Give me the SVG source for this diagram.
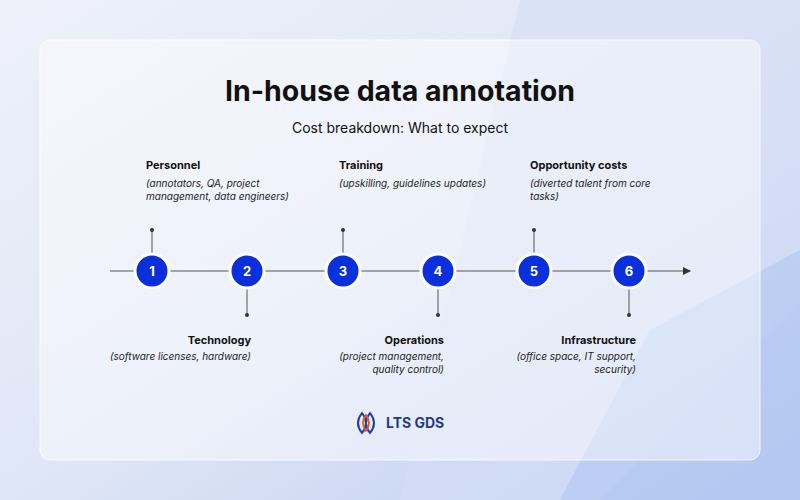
<svg xmlns="http://www.w3.org/2000/svg" width="800" height="500" viewBox="0 0 800 500">
<defs>
<linearGradient id="bg" x1="0" y1="0" x2="1" y2="1">
<stop offset="0" stop-color="#eef1fa"/><stop offset="0.5" stop-color="#dfe6f6"/><stop offset="1" stop-color="#bcccf0"/>
</linearGradient>
<marker id="arr" markerWidth="8" markerHeight="8" refX="7" refY="4" orient="auto" markerUnits="userSpaceOnUse"><path d="M0,0 L8,4 L0,8 Z" fill="#333"/></marker>
<style>
.t{font-family:Inter,"Liberation Sans",sans-serif;fill:#111}
.h{font-size:11px;font-weight:700}
.s{font-size:10px;font-style:italic;fill:#222}
.n circle{fill:#0a2fdb;stroke:#fff;stroke-width:3}
.n text{font-family:Inter,"Liberation Sans",sans-serif;font-size:13px;font-weight:700;fill:#fff;text-anchor:middle}
.ln{stroke:#555;stroke-width:1}
</style>
</defs>
<rect width="800" height="500" fill="url(#bg)"/>
<polygon points="520,0 800,0 800,300 600,500 400,500" fill="#d4def5" opacity="0.6"/>
<polygon points="650,330 800,250 800,500 560,500" fill="#a9c1f2" opacity="0.5"/>
<rect x="40" y="40" width="720" height="420" rx="10" fill="#fff" fill-opacity="0.45" stroke="#fff" stroke-opacity="0.8"/>
<text class="t" x="400" y="101" font-size="28.5" font-weight="700" text-anchor="middle">In-house data annotation</text>
<text class="t" x="400" y="133" font-size="14" text-anchor="middle">Cost breakdown: What to expect</text>
<g id="connectors">
<line class="ln" x1="110" y1="271" x2="690" y2="271" marker-end="url(#arr)"/>
<line class="ln" x1="152" y1="230" x2="152" y2="255"/><circle cx="152" cy="230" r="2" fill="#333"/>
<line class="ln" x1="247" y1="287" x2="247" y2="315"/><circle cx="247" cy="315" r="2" fill="#333"/>
<line class="ln" x1="343" y1="230" x2="343" y2="255"/><circle cx="343" cy="230" r="2" fill="#333"/>
<line class="ln" x1="438" y1="287" x2="438" y2="315"/><circle cx="438" cy="315" r="2" fill="#333"/>
<line class="ln" x1="534" y1="230" x2="534" y2="255"/><circle cx="534" cy="230" r="2" fill="#333"/>
<line class="ln" x1="629" y1="287" x2="629" y2="315"/><circle cx="629" cy="315" r="2" fill="#333"/>
</g>
<g id="n1" class="n"><circle cx="152" cy="271" r="17"/><text x="152" y="276">1</text></g>
<g id="n2" class="n"><circle cx="247" cy="271" r="17"/><text x="247" y="276">2</text></g>
<g id="n3" class="n"><circle cx="343" cy="271" r="17"/><text x="343" y="276">3</text></g>
<g id="n4" class="n"><circle cx="438" cy="271" r="17"/><text x="438" y="276">4</text></g>
<g id="n5" class="n"><circle cx="534" cy="271" r="17"/><text x="534" y="276">5</text></g>
<g id="n6" class="n"><circle cx="629" cy="271" r="17"/><text x="629" y="276">6</text></g>
<g id="l1"><text class="t h" x="146" y="169">Personnel</text><text class="t s" x="146" y="187">(annotators, QA, project</text><text class="t s" x="146" y="200">management, data engineers)</text></g>
<g id="l2"><text class="t h" x="251" y="344" text-anchor="end">Technology</text><text class="t s" x="251" y="360" text-anchor="end">(software licenses, hardware)</text></g>
<g id="l3"><text class="t h" x="339" y="169">Training</text><text class="t s" x="339" y="187">(upskilling, guidelines updates)</text></g>
<g id="l4"><text class="t h" x="444" y="344" text-anchor="end">Operations</text><text class="t s" x="444" y="360" text-anchor="end">(project management,</text><text class="t s" x="444" y="373" text-anchor="end">quality control)</text></g>
<g id="l5"><text class="t h" x="530" y="169">Opportunity costs</text><text class="t s" x="530" y="187">(diverted talent from core</text><text class="t s" x="530" y="200">tasks)</text></g>
<g id="l6"><text class="t h" x="636" y="344" text-anchor="end">Infrastructure</text><text class="t s" x="636" y="360" text-anchor="end">(office space, IT support,</text><text class="t s" x="636" y="373" text-anchor="end">security)</text></g>
<g id="logo">
<path d="M362,413 Q354,423 362,433 Q370,423 362,413 Z" fill="none" stroke="#1f3fa8" stroke-width="2"/>
<path d="M370,413 Q362,423 370,433 Q378,423 370,413 Z" fill="none" stroke="#1f3fa8" stroke-width="2"/>
<path d="M366,415 Q360,423 366,431 Q372,423 366,415 Z" fill="none" stroke="#e8582a" stroke-width="1.8"/>
<text class="t" x="386" y="428" font-size="14" font-weight="700" style="fill:#1f3a8a">LTS GDS</text>
</g>
</svg>
